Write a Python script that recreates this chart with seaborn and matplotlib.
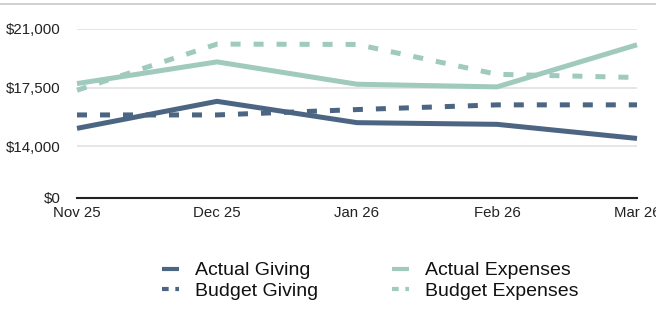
import numpy as np
import pandas as pd
import matplotlib
matplotlib.use("Agg")
import matplotlib.pyplot as plt
import seaborn as sns
from matplotlib.lines import Line2D

months = ["Nov 25", "Dec 25", "Jan 26", "Feb 26", "Mar 26"]
actual_giving = [15080, 16690, 15420, 15320, 14480]
budget_giving = [15880, 15880, 16200, 16480, 16480]
actual_expenses = [17750, 19040, 17710, 17550, 20060]
budget_expenses = [17350, 20100, 20080, 18300, 18110]

tick_vals = [0, 14000, 17500, 21000]
tick_labels = ["$0", "$14,000", "$17,500", "$21,000"]

dark = "#4b6582"
light = "#9fcabd"

sns.set_style("white")
plt.rcParams["font.family"] = ["Liberation Sans", "DejaVu Sans"]

df = pd.DataFrame({
    "month": months * 4,
    "value": actual_giving + budget_giving + actual_expenses + budget_expenses,
    "series": (["Actual Giving"] * 5 + ["Budget Giving"] * 5
               + ["Actual Expenses"] * 5 + ["Budget Expenses"] * 5),
})
df["x"] = df["month"].map({m: i for i, m in enumerate(months)})

# the source axis squeezes the 0-14000 band
brk_v = [-1e6, 0, 14000, 21000, 1e6]
brk_y = [-1e6 * 51 / 14000, 0, 51, 168, 168 + (1e6 - 21000) * 117 / 7000]


def fwd(v):
    return np.interp(v, brk_v, brk_y)


def inv(y):
    return np.interp(y, brk_y, brk_v)


fig = plt.figure(figsize=(6.56, 3.16), dpi=100)
ax = fig.add_axes([77 / 656, 1 - 197.7 / 316, 560 / 656, 168.7 / 316])
ax.set_yscale("function", functions=(fwd, inv))
ax.set_ylim(0, 21000)
ax.set_xlim(0, 4)

for v in tick_vals[1:]:
    ax.axhline(v, color="#e2e2e2", lw=1.2, zorder=0)

styles = {
    "Actual Giving": (dark, ""),
    "Budget Giving": (dark, (2, 2.6)),
    "Actual Expenses": (light, ""),
    "Budget Expenses": (light, (2, 2.6)),
}
order = ["Actual Giving", "Budget Giving", "Actual Expenses", "Budget Expenses"]
sns.lineplot(data=df, x="x", y="value", hue="series", style="series",
             hue_order=order, style_order=order,
             palette={k: v[0] for k, v in styles.items()},
             dashes={k: v[1] for k, v in styles.items()},
             lw=3.6, ax=ax, legend=False, clip_on=False)
for ln in ax.lines:
    ln.set_solid_capstyle("butt")
    ln.set_dash_capstyle("butt")

ax.set_yticks(tick_vals)
ax.set_yticklabels(tick_labels)
ax.set_xticks(range(len(months)))
ax.set_xticklabels(months)
ax.tick_params(axis="both", length=0, labelsize=10.8, colors="#222222")
ax.tick_params(axis="y", pad=12)
ax.tick_params(axis="x", pad=6)
ax.set_xlabel("")
ax.set_ylabel("")
for s in ["left", "right", "top"]:
    ax.spines[s].set_visible(False)
ax.spines["bottom"].set_color("#222222")
ax.spines["bottom"].set_linewidth(1.5)

handles = [Line2D([], [], color=styles[k][0], lw=3,
                  ls=(0, (1.6, 1.6)) if styles[k][1] else "-",
                  solid_capstyle="butt", dash_capstyle="butt") for k in order]
leg = fig.legend(handles, order, loc="center", ncol=2, frameon=False,
                 bbox_to_anchor=(0.564, 0.111), fontsize=14,
                 handlelength=0.9, handletextpad=0.8, columnspacing=3.8,
                 labelspacing=0.15, borderpad=0)
for t in leg.get_texts():
    t.set_color("#111111")

fig.add_artist(Line2D([0, 1], [1 - 3.5 / 316, 1 - 3.5 / 316],
                      color="#c8c8c8", lw=1.2, transform=fig.transFigure))

fig.savefig("out.png", dpi=100)
